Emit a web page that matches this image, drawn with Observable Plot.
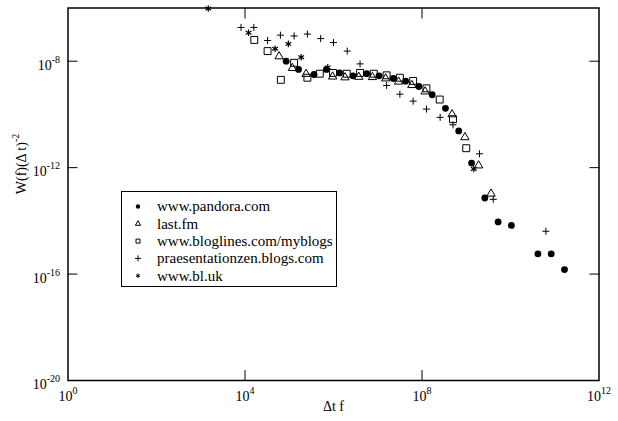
<!DOCTYPE html>
<html>
<head>
<meta charset="utf-8">
<script src="https://cdn.jsdelivr.net/npm/d3@7"></script>
<script src="https://cdn.jsdelivr.net/npm/@observablehq/plot@0.6"></script>
<style>
  body { margin: 0; background: #fff; }
  #chart { position: relative; width: 618px; height: 421px; font-family: "Liberation Serif", "Times New Roman", serif; background: #fff; }
  #chart svg { display: block; }
  #legend { position: absolute; left: 121px; top: 191px; }
</style>
</head>
<body>
<div id="chart"></div>
<script>
// ---- data (log10 of Δt f, log10 of W(f)(Δt)^-2) ----
const pandoraLogX = [4.93, 5.21, 5.56, 5.84, 6.14, 6.44, 6.75, 7.03, 7.35, 7.63, 7.93, 8.23, 8.53, 8.83, 9.12, 9.42, 9.72, 10.02, 10.62, 10.92, 11.22];
const pandoraLogY = [-8.00, -8.31, -8.50, -8.31, -8.44, -8.55, -8.47, -8.55, -8.65, -8.75, -8.95, -9.26, -9.77, -10.62, -11.83, -13.14, -14.04, -14.17, -15.24, -15.24, -15.83];

const lastfmLogX = [4.77, 5.07, 5.38, 5.98, 6.26, 6.57, 6.88, 7.18, 7.47, 7.77, 8.07, 8.68, 8.97, 9.28, 9.56];
const lastfmLogY = [-7.82, -8.26, -8.48, -8.58, -8.61, -8.59, -8.60, -8.65, -8.77, -8.90, -9.14, -10.00, -10.86, -11.92, -12.98];

const bloglinesLogX = [4.21, 4.51, 4.81, 5.11, 5.41, 5.69, 5.99, 6.30, 6.60, 6.91, 7.20, 7.50, 7.80, 8.10, 8.40, 8.70, 9.00];
const bloglinesLogY = [-7.20, -7.62, -8.70, -8.06, -8.62, -8.47, -8.44, -8.47, -8.44, -8.47, -8.53, -8.62, -8.74, -9.02, -9.44, -10.18, -11.27];

const praesLogX = [3.91, 4.20, 4.51, 4.80, 5.11, 5.41, 5.71, 6.00, 6.31, 6.60, 7.20, 7.50, 7.80, 8.10, 8.41, 8.70, 9.30, 9.61, 10.80];
const praesLogY = [-6.73, -6.73, -7.22, -7.02, -7.05, -6.98, -7.15, -7.30, -7.62, -8.10, -8.91, -9.24, -9.50, -9.80, -10.11, -10.39, -11.48, -13.19, -14.39];

const bluLogX = [3.17, 4.08, 4.68, 4.98, 5.27, 5.87, 9.17];
const bluLogY = [-6.02, -6.93, -7.53, -7.35, -7.85, -8.23, -12.05];

const seriesNames = ["www.pandora.com", "last.fm", "www.bloglines.com/myblogs", "praesentationzen.blogs.com", "www.bl.uk"];

const xTickValues = [1, 1e4, 1e8, 1e12];
const yTickValues = [1e-8, 1e-12, 1e-16, 1e-20];
const xInnerTicks = [1e4, 1e8];
const yInnerTicks = [1e-8, 1e-12, 1e-16];

const xLabel = "Δt f";
const yLabel = "W(f)(Δ t)^-2";

// ---- build tables ----
const toRows = (lx, ly) => lx.map((v, i) => ({x: 10 ** v, y: 10 ** ly[i]}));
const pandora = toRows(pandoraLogX, pandoraLogY);
const lastfm = toRows(lastfmLogX, lastfmLogY);
const bloglines = toRows(bloglinesLogX, bloglinesLogY);
const praes = toRows(praesLogX, praesLogY);
const blu = toRows(bluLogX, bluLogY);

const expFmt = d => "10^" + Math.round(Math.log10(d));

const plot = Plot.plot({
  width: 618,
  height: 421,
  marginLeft: 67.5,
  marginRight: 19.5,
  marginTop: 7.5,
  marginBottom: 41,
  style: {fontFamily: "'Liberation Serif', 'Times New Roman', serif", fontSize: "14px", background: "white", color: "black"},
  x: {type: "log", domain: [1, 1e12]},
  y: {type: "log", domain: [1e-20, 1e-6]},
  marks: [
    Plot.dot(pandora, {x: "x", y: "y", symbol: "circle", r: 3.4, fill: "black", stroke: "none"}),
    Plot.dot(lastfm, {x: "x", y: "y", symbol: "triangle", r: 3.1, fill: "none", stroke: "black", strokeWidth: 1}),
    Plot.dot(bloglines, {x: "x", y: "y", symbol: "square", r: 3.9, fill: "none", stroke: "black", strokeWidth: 1}),
    Plot.dot(praes, {x: "x", y: "y", symbol: "plus", r: 2.4, fill: "none", stroke: "black", strokeWidth: 1}),
    Plot.dot(blu, {x: "x", y: "y", symbol: "asterisk", r: 3.1, fill: "none", stroke: "black", strokeWidth: 1.2}),
    Plot.frame({stroke: "black", strokeWidth: 1.5}),
    // inward ticks
    Plot.axisX({anchor: "bottom", ticks: xInnerTicks, tickSize: -10, fill: "none", label: null}),
    Plot.axisX({anchor: "top", ticks: xInnerTicks, tickSize: -10, fill: "none", label: null}),
    Plot.axisY({anchor: "left", ticks: yInnerTicks, tickSize: -10, fill: "none", label: null}),
    Plot.axisY({anchor: "right", ticks: yInnerTicks, tickSize: -10, fill: "none", label: null}),
    // tick labels
    Plot.axisX({anchor: "bottom", ticks: xTickValues, tickSize: 0, tickPadding: 11, tickFormat: expFmt, label: null, fontSize: 14}),
    Plot.axisY({anchor: "left", ticks: yTickValues, tickSize: 0, tickPadding: 8, dy: 4, tickFormat: expFmt, label: null, fontSize: 14}),
    // axis titles
    Plot.text([xLabel], {frameAnchor: "bottom", dy: 30, fontSize: 14}),
    Plot.text([yLabel], {frameAnchor: "left", dx: -46, rotate: -90, fontSize: 14})
  ]
});

// superscripts: turn "a^b" into a + raised tspan
d3.select(plot).selectAll("text").each(function() {
  const t = this.textContent;
  if (!t.includes("^")) return;
  const [base, exp] = t.split("^");
  const sel = d3.select(this);
  sel.text(null);
  sel.append("tspan").text(base);
  sel.append("tspan").attr("dy", -7).attr("font-size", 10).text(exp);
});

const chart = document.getElementById("chart");
chart.appendChild(plot);

// ---- legend ----
const legendSymbols = [d3.symbolCircle, d3.symbolTriangle, d3.symbolSquare, d3.symbolPlus, d3.symbolAsterisk];
const legendSizes = [15, 12, 16, 14, 13];
const legendFilled = [true, false, false, false, false];
const lw = 216, lh = 96;
const leg = d3.select(chart).append("svg")
  .attr("id", "legend")
  .attr("width", lw).attr("height", lh)
  .style("position", "absolute").style("left", "121px").style("top", "191px");
leg.append("rect").attr("x", 0.5).attr("y", 0.5).attr("width", lw - 1).attr("height", lh - 1)
  .attr("fill", "white").attr("stroke", "black").attr("stroke-width", 1);
seriesNames.forEach((name, i) => {
  const cy = 15.5 + i * 17.3;
  leg.append("path")
    .attr("transform", `translate(17,${cy})`)
    .attr("d", d3.symbol(legendSymbols[i], legendSizes[i])())
    .attr("fill", legendFilled[i] ? "black" : "none")
    .attr("stroke", legendFilled[i] ? "none" : "black")
    .attr("stroke-width", 1);
  leg.append("text")
    .attr("x", 36).attr("y", cy).attr("dy", "0.32em")
    .attr("font-family", "'Liberation Serif', 'Times New Roman', serif")
    .attr("font-size", 15)
    .attr("fill", "black")
    .text(name);
});
</script>
</body>
</html>
